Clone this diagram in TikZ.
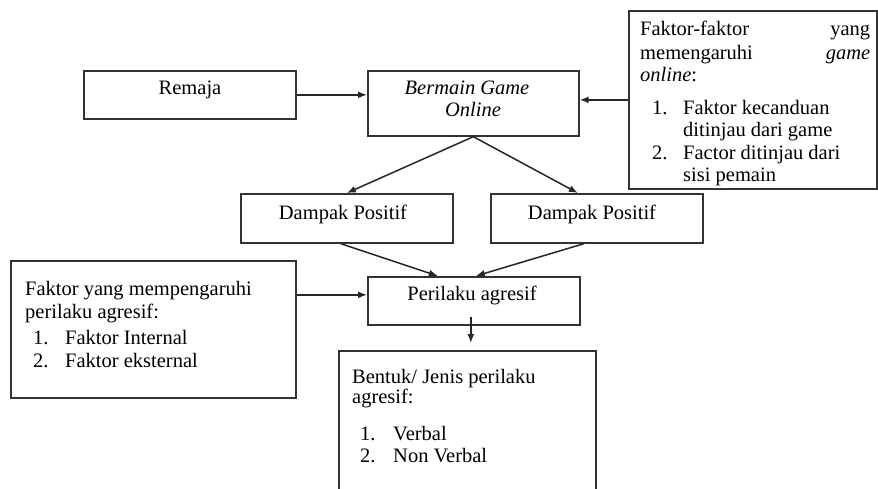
\documentclass[tikz,border=0pt]{standalone}
\usepackage{fontspec}
\setmainfont{Liberation Serif}
\usetikzlibrary{arrows.meta,calc}
\begin{document}
\begin{tikzpicture}[x=1pt,y=-1pt,
  box/.style={draw=black!80, line width=1.7pt, anchor=north west, inner sep=0pt},
  txt/.style={inner sep=0pt, text=black, font=\fontsize{20.5}{24}\selectfont},
  arr/.style={line width=1.5pt, draw=black!85, -{Latex[length=9pt,width=7pt]}}]
\clip (0,0) rectangle (878,489);
\fill[white] (0,0) rectangle (878,489);
% boxes
\node[box, minimum width=212pt, minimum height=48pt] (remaja) at (83,70) {};
\node[box, minimum width=211pt, minimum height=65pt] (bermain) at (367,70) {};
\node[box, minimum width=248pt, minimum height=178pt] (fg) at (628,10) {};
\node[box, minimum width=212pt, minimum height=49pt] (dampakA) at (240,193) {};
\node[box, minimum width=212pt, minimum height=49pt] (dampakB) at (490,193) {};
\node[box, minimum width=285pt, minimum height=137pt] (fp) at (10,260) {};
\node[box, minimum width=212pt, minimum height=48pt] (perilaku) at (367,276) {};
\node[box, minimum width=257pt, minimum height=160pt] (bentuk) at (338,350) {};
% texts
\node[txt, anchor=base] (tRemaja) at (190,95) {Remaja};
\node[txt, anchor=base] (tBer1) at (467,95) {\textit{Bermain Game}};
\node[txt, anchor=base] (tBer2) at (473,117) {\textit{Online}};
\node[txt, anchor=base west] (tF1) at (640,36) {\makebox[230pt]{Faktor-faktor\hfill yang}};
\node[txt, anchor=base west] (tF2) at (640,60) {\makebox[230pt]{memengaruhi\hfill\textit{game}}};
\node[txt, anchor=base west] (tF3) at (640,82) {\textit{online}:};
\node[txt, anchor=base west] (tF4n) at (652,115) {1.};
\node[txt, anchor=base west] (tF4) at (683,115) {Faktor kecanduan};
\node[txt, anchor=base west] (tF5) at (683,137) {ditinjau dari game};
\node[txt, anchor=base west] (tF6n) at (652,160) {2.};
\node[txt, anchor=base west] (tF6) at (683,160) {Factor ditinjau dari};
\node[txt, anchor=base west] (tF7) at (683,182) {sisi pemain};
\node[txt, anchor=base] (tDA) at (343,219) {Dampak Positif};
\node[txt, anchor=base] (tDB) at (592,219) {Dampak Positif};
\node[txt, anchor=base west] (tP1) at (25,295) {Faktor yang mempengaruhi};
\node[txt, anchor=base west] (tP2) at (25,318) {perilaku agresif:};
\node[txt, anchor=base west] (tP3n) at (33,344) {1.};
\node[txt, anchor=base west] (tP3) at (65,344) {Faktor Internal};
\node[txt, anchor=base west] (tP4n) at (33,367) {2.};
\node[txt, anchor=base west] (tP4) at (65,367) {Faktor eksternal};
\node[txt, anchor=base] (tPer) at (472,300) {Perilaku agresif};
\node[txt, anchor=base west] (tB1) at (352,383) {Bentuk/ Jenis perilaku};
\node[txt, anchor=base west] (tB2) at (352,403) {agresif:};
\node[txt, anchor=base west] (tB3n) at (360,440) {1.};
\node[txt, anchor=base west] (tB3) at (393,440) {Verbal};
\node[txt, anchor=base west] (tB4n) at (360,462) {2.};
\node[txt, anchor=base west] (tB4) at (393,462) {Non Verbal};
% connectors
\draw[arr] (remaja.east) -- (remaja.east -| bermain.west);
\draw[arr] (fg.west) -- (fg.west -| bermain.east);
\draw[arr] (bermain.south) -- (dampakA.north);
\draw[arr] (bermain.south) -- ([xshift=-19pt]dampakB.north);
\draw[arr] ([xshift=-6pt]dampakA.south) -- ([xshift=-36pt]perilaku.north);
\draw[arr] ([xshift=-13pt]dampakB.south) -- ([xshift=2pt]perilaku.north);
\coordinate (pA) at ([yshift=6pt]perilaku.west);
\draw[arr] (fp.east |- pA) -- (pA);
\coordinate (pD) at ([xshift=-3pt,yshift=9pt]perilaku.south);
\coordinate (pE) at (pD |- bentuk.north);
\draw[arr] (pD) -- ([yshift=7pt]pE);
\end{tikzpicture}
\end{document}
